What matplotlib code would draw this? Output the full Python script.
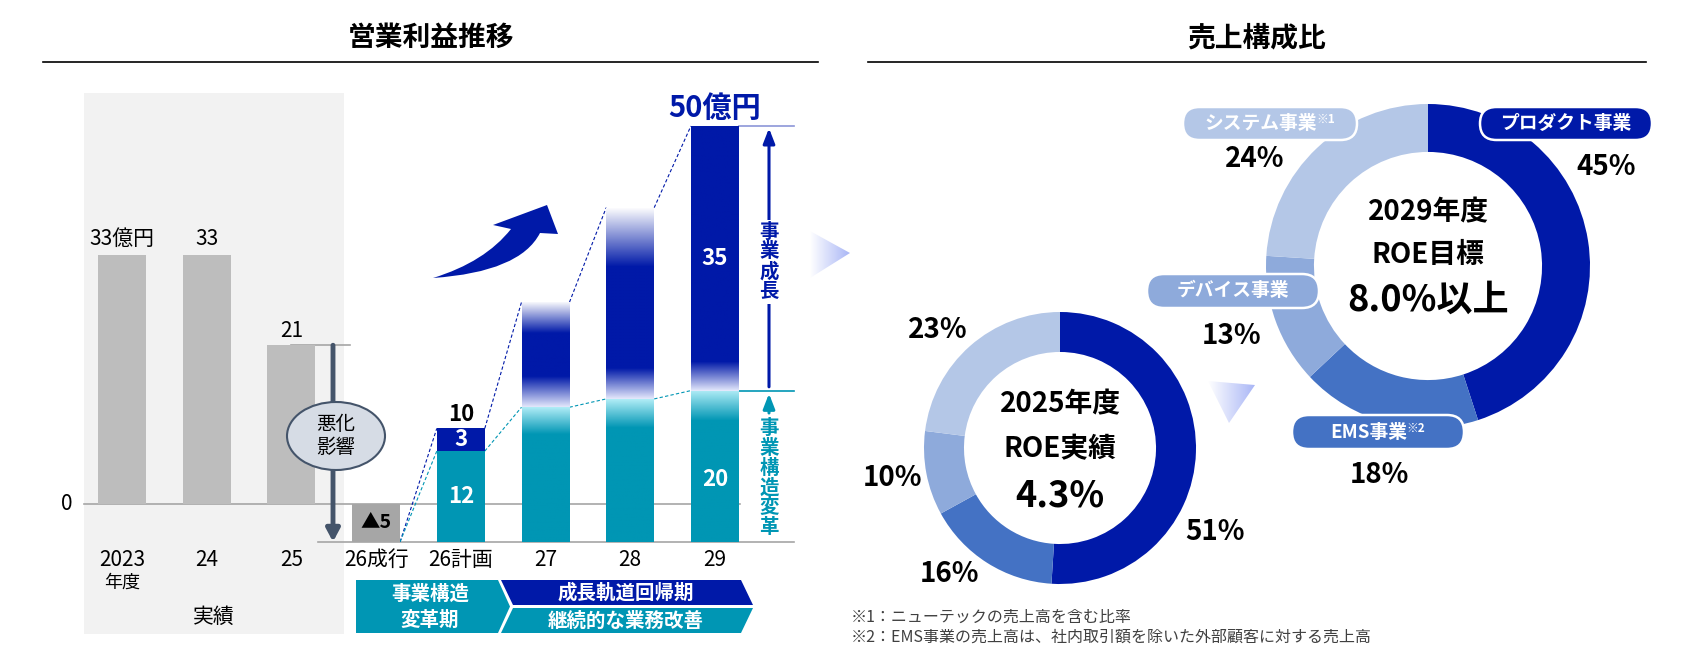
import numpy as np
import matplotlib
matplotlib.use('Agg')
import matplotlib.pyplot as plt
from matplotlib.patches import Rectangle, Ellipse, Polygon, FancyBboxPatch, PathPatch
from matplotlib.path import Path
from matplotlib.colors import LinearSegmentedColormap

plt.rcParams['font.family'] = ['Noto Sans CJK JP', 'DejaVu Sans']

# 営業利益推移 (億円)
years = ['2023', '24', '25', '26成行', '26計画', '27', '28', '29']
actual = [33, 33, 21]            # 2023-25 実績
outlook = -5                     # 26成行
reform = [12, 17.8, 18.9, 20]    # 事業構造変革, stacked up from the 26成行 level
growth = [3, 13.9, 25.3, 35]     # 事業成長

# 売上構成比 (%)
segments = ['プロダクト事業', 'EMS事業', 'デバイス事業', 'システム事業']
share_2025 = [51, 16, 10, 23]
share_2029 = [45, 18, 13, 24]
roe_2025 = '4.3%'
roe_2029 = '8.0%以上'

NAVY = '#0019a8'
TEAL = '#0096b4'
GRAY = '#a6a6a6'
SEG_COLORS = [NAVY, '#4472c4', '#8eaadb', '#b4c7e7']

W, H = 1687, 649
X0, DX = 122, 84.7    # pixel x of first bar, pixels per category
Y0, DY = 504, 7.56    # pixel y of the zero line, pixels per 億円


def px(x):
    return (x - X0) / DX


def py(y):
    return (Y0 - y) / DY


def gradient(axes, patch, extent, stops, vertical=True):
    ramp = np.linspace(0, 1, 256)
    img = ramp.reshape(-1, 1) if vertical else ramp.reshape(1, -1)
    im = axes.imshow(img, cmap=LinearSegmentedColormap.from_list('g', stops),
                     extent=extent, origin='lower', aspect='auto',
                     zorder=patch.get_zorder())
    im.set_clip_path(patch)


fig = plt.figure(figsize=(W / 100, H / 100), dpi=100)

bg = fig.add_axes([0, 0, 1, 1], zorder=0)
fg = fig.add_axes([0, 0, 1, 1], zorder=3)
for o in (bg, fg):
    o.set_xlim(0, W)
    o.set_ylim(H, 0)
    o.axis('off')

ax = fig.add_axes([0, 0, 1, 1], zorder=1)
ax.set_xlim(px(0), px(W))
ax.set_ylim(py(H), py(0))
ax.axis('off')

# ---------------- left panel: 営業利益推移 ----------------
bg.add_patch(Rectangle((84, 93), 260, 541, color='#f2f2f2', lw=0))

x = np.arange(len(years))
bw = 48 / DX
hw = bw / 2
mids = outlook + np.array(reform)
tops = mids + np.array(growth)

ax.bar(x[:3], actual, bw, color='#bdbdbd', zorder=2)
ax.bar(x[3], outlook, bw, color=GRAY, zorder=2)
teal_bars = ax.bar(x[4:], reform, bw, bottom=outlook, color=TEAL, zorder=2)
navy_bars = ax.bar(x[4:], growth, bw, bottom=mids, color=NAVY, zorder=2)

navy_fades = [None, [(0, '#e3e7fb'), (0.29, NAVY), (0.70, NAVY), (1, 'white')],
              [(0, '#e3e7fb'), (0.16, NAVY), (0.69, NAVY), (1, 'white')],
              [(0, '#e3e7fb'), (0.11, NAVY), (1, NAVY)]]
for k in range(1, 4):
    for bar, stops in ((teal_bars[k], [(0, TEAL), (0.8, TEAL), (1, '#b0ecf6')]),
                       (navy_bars[k], navy_fades[k])):
        x0, y0 = bar.get_x(), bar.get_y()
        gradient(ax, bar, [x0, x0 + bar.get_width(), y0, y0 + bar.get_height()], stops)
        bar.set_facecolor('none')

# reference lines
ax.plot([px(84), px(740)], [0, 0], color=GRAY, lw=1.2, zorder=1)
ax.plot([px(318), px(794)], [outlook, outlook], color=GRAY, lw=1.2, zorder=1)
ax.plot([2, px(350)], [actual[2], actual[2]], color=GRAY, lw=1.2, zorder=1)
ax.plot([7 + hw, px(794)], [tops[3], tops[3]], color='#8c96d8', lw=1.2, zorder=1)
ax.plot([7 + hw, px(794)], [mids[3], mids[3]], color=TEAL, lw=1.2, zorder=1)

# dashed connectors between plan bars
dash = dict(ls=(0, (3, 2)), lw=0.8, zorder=1)
ax.plot([3 + hw, 4 - hw], [outlook, tops[0]], color=NAVY, **dash)
ax.plot([3 + hw, 4 - hw], [outlook, mids[0]], color=TEAL, **dash)
for k in range(3):
    ax.plot([4 + k + hw, 5 + k - hw], [tops[k], tops[k + 1]], color=NAVY, **dash)
    ax.plot([4 + k + hw, 5 + k - hw], [mids[k], mids[k + 1]], color=TEAL, **dash)

# value labels
lab = dict(ha='center', va='center', textcoords='offset points')
ax.annotate(f'{actual[0]}億円', (0, actual[0]), xytext=(0, 11), fontsize=15, **lab)
ax.annotate(f'{actual[1]}', (1, actual[1]), xytext=(0, 11), fontsize=15, **lab)
ax.annotate(f'{actual[2]}', (2, actual[2]), xytext=(0, 10), fontsize=15, **lab)
ax.text(3, outlook / 2, f'▲{abs(outlook)}', ha='center', va='center',
        fontsize=14, fontweight='bold', zorder=3)
ax.annotate(f'{tops[0]:.0f}', (4, tops[0]), xytext=(0, 10), fontsize=16,
            fontweight='bold', **lab)
ax.text(4, mids[0] + growth[0] / 2, f'{growth[0]}', color='white', ha='center',
        va='center', fontsize=16, fontweight='bold', zorder=3)
ax.text(4, outlook + reform[0] / 2, f'{reform[0]}', color='white', ha='center',
        va='center', fontsize=16, fontweight='bold', zorder=3)
ax.text(7, mids[3] + growth[3] / 2, f'{growth[3]}', color='white', ha='center',
        va='center', fontsize=16, fontweight='bold', zorder=3)
ax.text(7, outlook + reform[3] / 2 - 1.7, f'{reform[3]}', color='white', ha='center',
        va='center', fontsize=16, fontweight='bold', zorder=3)
ax.annotate(f'{tops[3]:.0f}億円', (7, tops[3]), xytext=(0, 13), fontsize=21,
            fontweight='bold', color=NAVY, **lab)

# axis texts
for i, s in enumerate(years):
    ax.text(i, py(560), s, ha='center', va='center', fontsize=15)
ax.text(0, py(583), '年度', ha='center', va='center', fontsize=13)
ax.text(px(214), py(617), '実績', ha='center', va='center', fontsize=15)
ax.text(px(67), 0, '0', ha='center', va='center', fontsize=15)

# 悪化影響 arrow
ax.annotate('', xy=(px(333), outlook), xytext=(px(333), actual[2]),
            arrowprops=dict(arrowstyle='-|>,head_length=0.75,head_width=0.4',
                            color='#44546a', lw=3.5, shrinkA=0, shrinkB=0), zorder=3)
ax.add_patch(Ellipse((px(336), py(436)), 98 / DX, 68 / DY, fc='#d6dce5',
                     ec='#44546a', lw=1.5, zorder=4))
ax.text(px(336), py(436), '悪化\n影響', ha='center', va='center', fontsize=14,
        linespacing=1.1, zorder=5)

# 事業成長 / 事業構造変革 arrows
ax.annotate('', xy=(px(769), tops[3] - 0.3), xytext=(px(769), mids[3] + 0.5),
            arrowprops=dict(arrowstyle='-|>,head_length=0.9,head_width=0.35',
                            color=NAVY, lw=2.2, shrinkA=0, shrinkB=0), zorder=3)
ax.text(px(769), py(262), '\n'.join('事業成長'), color=NAVY, ha='center', va='center',
        fontsize=14, fontweight='bold', linespacing=1.05,
        bbox=dict(fc='white', ec='none', pad=2), zorder=4)
ax.annotate('', xy=(px(769), mids[3] - 0.4), xytext=(px(769), py(413)),
            arrowprops=dict(arrowstyle='-|>,head_length=0.9,head_width=0.35',
                            color=TEAL, lw=2.2, shrinkA=0, shrinkB=0), zorder=3)
ax.text(px(769), py(478), '\n'.join('事業構造変革'), color=TEAL, ha='center',
        va='center', fontsize=14, fontweight='bold', linespacing=1.05, zorder=4)

# ---------------- overlay: titles, bands, decorations ----------------
fg.text(431, 38, '営業利益推移', ha='center', va='center', fontsize=20, fontweight='bold')
fg.text(1257, 38, '売上構成比', ha='center', va='center', fontsize=20, fontweight='bold')
fg.plot([43, 818], [62, 62], color='black', lw=1.2)
fg.plot([868, 1646], [62, 62], color='black', lw=1.2)

fg.add_patch(Polygon([(356, 580), (498, 580), (510, 606.5), (498, 633), (356, 633)],
                     color=TEAL, lw=0))
fg.add_patch(Polygon([(501, 580), (741, 580), (753, 605), (513, 605)], color=NAVY, lw=0))
fg.add_patch(Polygon([(513, 608), (753, 608), (741, 633), (501, 633)], color=TEAL, lw=0))
band = dict(ha='center', va='center', color='white', fontsize=14, fontweight='bold')
fg.text(430, 594, '事業構造', **band)
fg.text(430, 620, '変革期', **band)
fg.text(626, 593, '成長軌道回帰期', **band)
fg.text(626, 621, '継続的な業務改善', **band)

# growth swoosh (tapered tail, skewed head)
swoosh = Path([(433, 278), (485, 262), (511, 229), (493, 225), (547, 205), (558, 234),
               (540, 233), (520, 272), (433, 278), (433, 278)],
              [Path.MOVETO, Path.CURVE3, Path.CURVE3, Path.LINETO, Path.LINETO,
               Path.LINETO, Path.LINETO, Path.CURVE3, Path.CURVE3, Path.CLOSEPOLY])
fg.add_patch(PathPatch(swoosh, fc=NAVY, ec='none'))

for tri in ([(810, 231), (850, 253), (810, 278)], [(1208, 381), (1255, 385), (1229, 423)]):
    poly = Polygon(tri, fc='none', ec='none')
    fg.add_patch(poly)
    xs = [p[0] for p in tri]
    ys = [p[1] for p in tri]
    gradient(fg, poly, [min(xs), max(xs), max(ys), min(ys)],
             [(0, '#ffffff'), (1, '#a9b6f6')], vertical=False)

fg.text(851, 617, '※1：ニューテックの売上高を含む比率', ha='left', va='center',
        fontsize=11.5, color='#404040')
fg.text(851, 637, '※2：EMS事業の売上高は、社内取引額を除いた外部顧客に対する売上高',
        ha='left', va='center', fontsize=11.5, color='#404040')

# ---------------- donuts: 売上構成比 ----------------
def donut(cx, cy, r, shares, width):
    d = fig.add_axes([(cx - r) / W, (H - cy - r) / H, 2 * r / W, 2 * r / H], zorder=2)
    d.pie(shares, colors=SEG_COLORS, startangle=90, counterclock=False, radius=1,
          wedgeprops=dict(width=width, linewidth=0))
    d.set_xlim(-1, 1)
    d.set_ylim(-1, 1)
    d.set_aspect('equal')
    d.axis('off')
    return d


pct = dict(ha='center', va='center', fontsize=20, fontweight='bold')
d25 = donut(1060, 448, 136, share_2025, 0.294)
for v, (lx, ly) in zip(share_2025, [(1.14, -0.62), (-0.81, -0.93), (-1.23, -0.22), (-0.90, 0.87)]):
    d25.text(lx, ly, f'{v}%', **pct)
d25.text(0, 0.32, '2025年度', ha='center', va='center', fontsize=20, fontweight='bold')
d25.text(0, -0.01, 'ROE実績', ha='center', va='center', fontsize=20, fontweight='bold')
d25.text(0, -0.35, roe_2025, ha='center', va='center', fontsize=26, fontweight='bold')

d29 = donut(1428, 266, 162, share_2029, 0.296)
for v, (lx, ly) in zip(share_2029, [(1.10, 0.61), (-0.30, -1.29), (-1.21, -0.43), (-1.07, 0.66)]):
    d29.text(lx, ly, f'{v}%', **pct)
d29.text(0, 0.33, '2029年度', ha='center', va='center', fontsize=20, fontweight='bold')
d29.text(0, 0.07, 'ROE目標', ha='center', va='center', fontsize=20, fontweight='bold')
d29.text(0, -0.21, roe_2029, ha='center', va='center', fontsize=26, fontweight='bold')

# segment name pills
renderer = fig.canvas.get_renderer()


def pill(x0, y0, w, h, color, label, note=None):
    fg.add_patch(FancyBboxPatch((x0, y0), w, h, boxstyle=f'round,pad=0,rounding_size={h / 2}',
                                fc=color, ec='white', lw=1.8))
    shift = 9 if note else 0
    t = fg.text(x0 + w / 2 - shift, y0 + h / 2, label, color='white', fontsize=13.5,
                fontweight='bold', ha='center', va='center')
    if note:
        bb = t.get_window_extent(renderer=renderer)
        nx, ny = fg.transData.inverted().transform((bb.x1, bb.y1))
        fg.text(nx - 1, ny - 1, note, color='white', fontsize=8.5, fontweight='bold',
                ha='left', va='top')


pill(1183, 107, 174, 33, SEG_COLORS[3], segments[3], '※1')
pill(1480, 107, 172, 33, SEG_COLORS[0], segments[0])
pill(1147, 274, 172, 34, SEG_COLORS[2], segments[2])
pill(1292, 415, 172, 34, SEG_COLORS[1], segments[1], '※2')

fig.savefig('out.png', dpi=100)
